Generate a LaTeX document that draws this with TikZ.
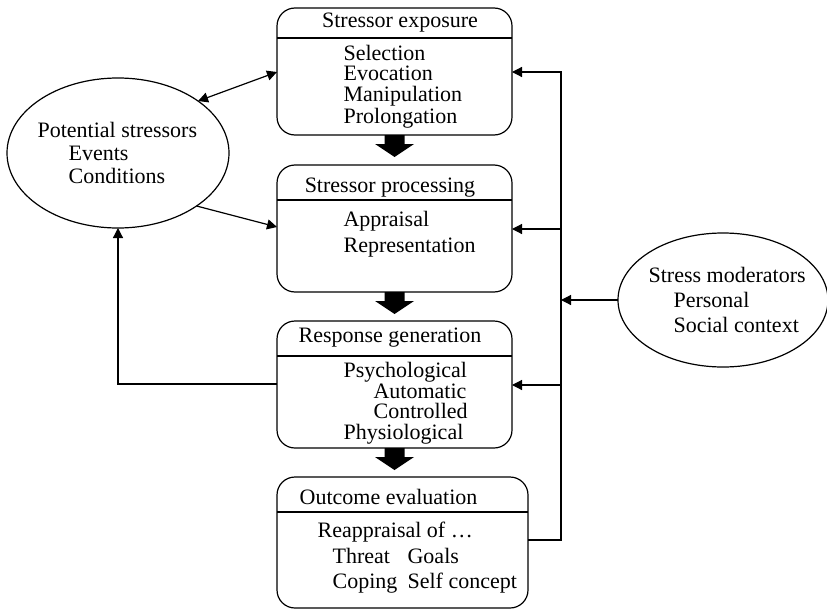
\documentclass[tikz,border=0pt]{standalone}
\usepackage{fontspec}
\setmainfont{Liberation Serif}
\usetikzlibrary{arrows.meta,shapes.geometric}

\tikzset{
  every picture/.style={line width=1.2pt},
  stage/.style={draw, rounded corners=18pt, inner sep=0pt, outer sep=0pt},
  oval/.style={draw, ellipse, inner sep=0pt, outer sep=0pt},
  txt/.style={inner sep=0pt, anchor=base west, font=\fontsize{22}{22}\selectfont},
  ttl/.style={txt, anchor=base},
  link/.style={-{Triangle[length=10pt,width=10pt]}},
  twoway/.style={{Triangle[length=10pt,width=10pt]}-{Triangle[length=10pt,width=10pt]}},
  fatarrow/.pic={\fill (-10,0) -- (10,0) -- (10,9) -- (19.5,9) -- (0,22) -- (-19.5,9) -- (-10,9) -- cycle;}
}

\begin{document}
\begin{tikzpicture}[x=1pt, y=-1pt]
\useasboundingbox (0,0) rectangle (827,610);

% the four stages
\node[stage, minimum width=235pt, minimum height=127pt] (b1) at (394.5,71.5) {};
\node[stage, minimum width=235pt, minimum height=127pt] (b2) at (394.5,228.5) {};
\node[stage, minimum width=235pt, minimum height=127pt] (b3) at (394.5,384.5) {};
\node[stage, minimum width=251pt, minimum height=131pt] (b4) at (402.5,542.5) {};

% header separators
\draw (b1.west |- 0,38) -- (b1.east |- 0,38);
\draw (b2.west |- 0,200) -- (b2.east |- 0,200);
\draw (b3.west |- 0,356) -- (b3.east |- 0,356);
\draw (b4.west |- 0,512) -- (b4.east |- 0,512);

% stage texts
\node[ttl] (h1) at (400,28) {Stressor exposure};
\node[txt] (s1a) at (343,60) {Selection};
\node[txt] (s1b) at (343,81) {Evocation};
\node[txt] (s1c) at (343,101) {Manipulation};
\node[txt] (s1d) at (343,123) {Prolongation};

\node[ttl] (h2) at (390,192) {Stressor processing};
\node[txt] (s2a) at (343,226) {Appraisal};
\node[txt] (s2b) at (343,252) {Representation};

\node[ttl] (h3) at (390,342) {Response generation};
\node[txt] (s3a) at (343,377) {Psychological};
\node[txt] (s3b) at (373,398) {Automatic};
\node[txt] (s3c) at (373,418) {Controlled};
\node[txt] (s3d) at (343,439) {Physiological};

\node[ttl] (h4) at (388.5,504) {Outcome evaluation};
\node[txt] (s4a) at (317,537) {Reappraisal of \dots};
\node[txt] (s4b) at (332,563) {Threat};
\node[txt] (s4c) at (407,563) {Goals};
\node[txt] (s4d) at (332,588) {Coping};
\node[txt] (s4e) at (407,588) {Self concept};

% flow between stages
\pic at (b1.south) {fatarrow};
\pic at (b2.south) {fatarrow};
\pic at (b3.south) {fatarrow};

% potential stressors
\node[oval, minimum width=222pt, minimum height=150pt] (ps) at (118,153) {};
\node[txt] (p1) at (37,137) {Potential stressors};
\node[txt] (p2) at (68,160) {Events};
\node[txt] (p3) at (68,183) {Conditions};

% stress moderators
\node[oval, minimum width=210pt, minimum height=134pt] (sm) at (723,300) {};
\node[txt] (m1) at (648,282) {Stress moderators};
\node[txt] (m2) at (673,307) {Personal};
\node[txt] (m3) at (673,332) {Social context};

% links with the stressors
\draw[twoway] (ps.33) -- (b1.west |- 0,72);
\draw[link] (ps.-34) -- (b2.west |- 0,227);
\draw[link] (b3.west |- 0,384) -| (ps.south);

% moderator feedback bus
\coordinate (rtop) at (561,72);
\coordinate (rbot) at (561,540);
\coordinate (j2) at (561,229);
\coordinate (j3) at (561,385);
\draw[link] (b4.east |- rbot) -- (rbot) -- (rtop) -- (b1.east |- rtop);
\draw[link] (j2) -- (b2.east |- j2);
\draw[link] (j3) -- (b3.east |- j3);
\draw[link] (sm.west) -- (sm.west -| rtop);
\end{tikzpicture}
\end{document}
